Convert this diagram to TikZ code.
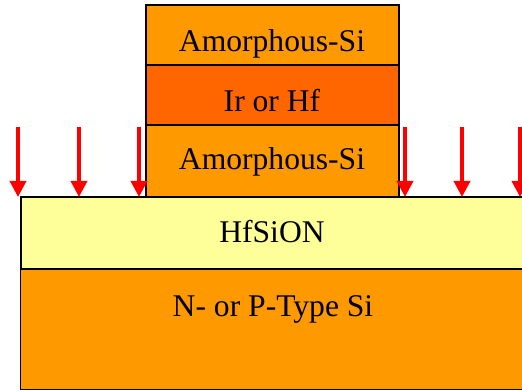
\documentclass[tikz,border=0pt]{standalone}
\usepackage{fontspec}
\setmainfont{Liberation Serif}
\usetikzlibrary{arrows.meta}
\definecolor{orangeSi}{HTML}{FF9900}
\definecolor{metal}{HTML}{FF6600}
\definecolor{oxide}{HTML}{FFFF99}
\begin{document}
\begin{tikzpicture}[x=1pt,y=-1pt,
  layer/.style={draw=black,line width=1.6pt,rectangle,inner sep=0pt,outer sep=0pt},
  lbl/.style={anchor=base,inner sep=0pt,font=\fontsize{31.6}{38}\selectfont},
  implant/.style={draw=red,fill=red,line width=3.5pt,-{Triangle[width=16pt,length=16pt]}}]
\useasboundingbox (0,0) rectangle (522,390);
\clip (0,0) rectangle (522,390);
% substrate and oxide
\path[layer,fill=orangeSi] (21,269) rectangle (540,389);
\node[layer,fill=orangeSi,minimum width=519pt,minimum height=120pt,anchor=north west,draw=none] (sub) at (21,269) {};
\path[layer,fill=oxide] (21,197) rectangle (540,269);
\node[anchor=north west,minimum width=519pt,minimum height=72pt,inner sep=0pt] (ox) at (21,197) {};
% gate stack
\node[layer,fill=orangeSi,minimum width=253pt,minimum height=72pt,anchor=north west] (as2) at (146,125) {};
\node[layer,fill=metal,minimum width=253pt,minimum height=60pt,anchor=north west] (ir) at (146,65) {};
\node[layer,fill=orangeSi,minimum width=253pt,minimum height=60pt,anchor=north west] (as1) at (146,5) {};
% labels
\node[lbl] (t1) at (272,52) {Amorphous-Si};
\node[lbl] (t2) at (272,112) {Ir or Hf};
\node[lbl] (t3) at (272,170) {Amorphous-Si};
\node[lbl] (t4) at (272,243) {HfSiON};
\node[lbl] (t5) at (273,316) {N- or P-Type Si};
% implant arrows
\foreach \i/\x in {1/18,2/79,3/139,4/405,5/462,6/520}{
  \coordinate (s\i) at (\x,127);
  \draw[implant] (s\i) -- (s\i |- ox.north);
}
\end{tikzpicture}
\end{document}
